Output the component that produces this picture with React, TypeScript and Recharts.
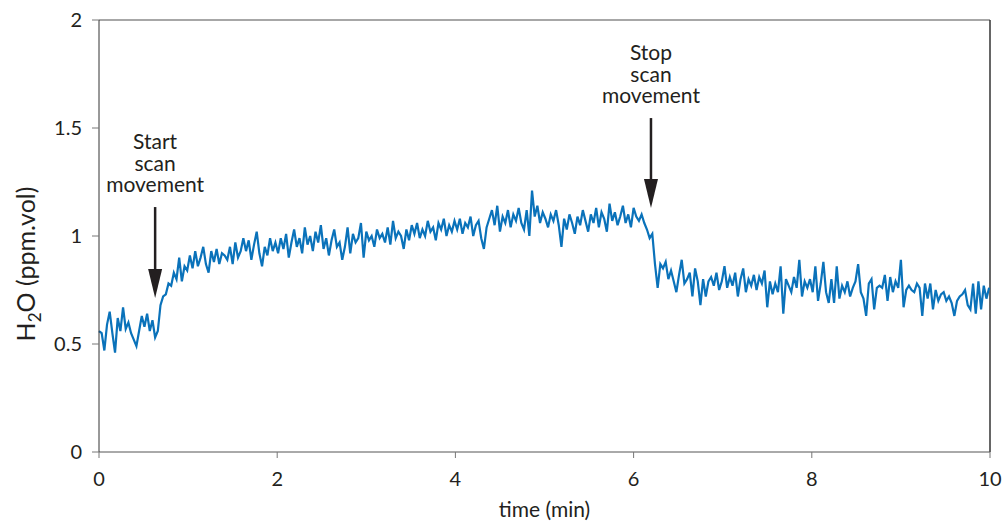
import React from 'react';
import { LineChart, Line, XAxis, YAxis, ReferenceLine } from 'recharts';

// sampling step (min)
const STEP = 0.03;

// H2O readings (ppm.vol)
const seg0Start = 0.0;
const seg0 = [0.56,0.55,0.47,0.59,0.65,0.55,0.46,0.62,0.56,0.67,0.57,0.60,0.55,0.52,0.49,0.56,0.63,0.58,0.64,0.56,0.61,0.53];
const seg1Start = 0.66;
const seg1 = [0.56,0.68,0.72,0.73,0.78,0.77,0.83,0.80,0.90,0.79,0.86,0.84];
const seg2Start = 1.02;
const seg2 = [0.91,0.85,0.93,0.86,0.90,0.95,0.87,0.83,0.93,0.88,0.94,0.87,0.92,0.91,0.89,0.95,0.87,0.97,0.90,0.93,0.99,0.93,0.98,0.89,0.96,1.02,0.92,0.86,0.95,0.91,0.99,0.93,0.97];
const seg3Start = 2.01;
const seg3 = [
  0.92,0.99,0.94,1.01,0.90,0.97,1.03,0.95,0.99,0.92,
  1.04,0.96,1.00,0.93,1.02,0.97,1.05,0.94,0.99,0.91,
  0.98,1.03,0.95,0.97,0.89,0.95,1.04,0.92,1.01,0.97,
  0.99,1.06,0.90,1.02,0.98,1.00,0.95,1.03,0.99,1.01,
  0.97,1.04,0.96,1.07,0.99,1.02,1.00,0.94,1.03,0.98,
  1.05,1.01,1.06,0.99,1.03,1.00,1.07,1.02,1.04,0.98,
  1.06,1.03,1.08,1.00,1.05,1.02,1.07,
];
const seg4Start = 4.02;
const seg4 = [
  1.03,1.08,1.01,1.06,1.04,1.09,1.00,1.05,1.07,0.99,
  0.94,1.04,1.08,1.12,1.05,1.14,1.02,1.09,1.06,1.12,
  1.04,1.10,1.07,1.13,1.06,1.03,1.12,1.00,1.21,1.09,
  1.14,1.06,1.11,1.08,1.04,1.10,1.07,1.12,1.05,0.95,
  1.08,1.03,1.10,1.06,1.01,1.09,1.05,1.12,1.07,1.02,
  1.10,1.06,1.13,1.04,1.11,1.08,1.02,1.15,1.07,1.11,
  1.05,1.09,1.14,1.06,1.10,1.04,1.13,
];
const seg5Start = 6.03;
const seg5 = [1.09,1.07,1.10,1.06,1.03,0.99,1.01,0.87,0.76,0.87,0.85,0.88];
const seg6Start = 6.39;
const seg6 = [
  0.80,0.84,0.79,0.74,0.82,0.89,0.78,0.80,0.83,0.72,
  0.85,0.79,0.68,0.80,0.72,0.79,0.81,0.77,0.83,0.75,
  0.79,0.86,0.76,0.81,0.77,0.83,0.72,0.80,0.85,0.74,
  0.80,0.77,0.82,0.75,0.81,0.78,0.84,0.67,0.79,0.73,
  0.78,0.74,0.86,0.64,0.80,0.77,0.74,0.81,0.76,0.89,
  0.72,0.79,0.76,0.80,0.74,0.86,0.70,0.78,0.88,0.74,
  0.69,0.80,0.69,0.86,0.71,0.77,0.74,0.79,0.72,0.76,
  0.79,0.87,0.74,0.71,0.63,0.78,0.80,0.66,0.76,0.77,
  0.76,0.82,0.70,0.81,0.74,0.79,0.76,0.89,0.67,0.75,
  0.77,0.75,0.74,0.78,0.76,0.63,0.78,0.71,0.78,0.66,
  0.75,0.70,0.73,0.74,0.70,0.72,0.69,0.63,0.70,0.72,
  0.73,0.75,0.68,0.66,0.78,0.64,0.79,0.66,0.77,0.71,
  0.76,
];

const xTicks = [0, 2, 4, 6, 8, 10];
const yTicks = [0, 0.5, 1, 1.5, 2];

// annotations: x (min), arrow top value, arrow tip value, text lines
const startNote = { x: 0.63, top: 1.134, tip: 0.713, lines: ['Start', 'scan', 'movement'] };
const stopNote = { x: 6.195, top: 1.546, tip: 1.13, lines: ['Stop', 'scan', 'movement'] };

const segments: [number, number[]][] = [
  [seg0Start, seg0], [seg1Start, seg1], [seg2Start, seg2], [seg3Start, seg3],
  [seg4Start, seg4], [seg5Start, seg5], [seg6Start, seg6],
];
const data = segments.flatMap(([start, vals]) =>
  vals.map((v, j) => ({ t: Math.round((start + j * STEP) * 100) / 100, h2o: v }))
);

const FONT = 'Lato, "Open Sans", sans-serif';
const TEXT = '#231f20';

const makeArrow = (lines: string[]) => (props: any) => {
  const { x1, y1, x2, y2 } = props;
  return (
    <g>
      {lines.map((l, i) => (
        <text key={i} x={x1} y={y1 - 58 + i * 21.5} textAnchor="middle" fontSize={21} fill={TEXT} fontFamily={FONT}>
          {l}
        </text>
      ))}
      <line x1={x1} y1={y1} x2={x2} y2={y2 - 26} stroke={TEXT} strokeWidth={2.5} />
      <polygon points={`${x2 - 7},${y2 - 29} ${x2 + 7},${y2 - 29} ${x2},${y2}`} fill={TEXT} />
    </g>
  );
};

const YLabel = (props: any) => {
  const vb = props.viewBox || { x: 0 };
  const cx = vb.x + 35;
  const cy = 264;
  return (
    <text
      x={cx}
      y={cy}
      transform={`rotate(-90, ${cx}, ${cy})`}
      textAnchor="middle"
      fontSize={25}
      fill={TEXT}
      fontFamily={FONT}
    >
      <tspan>H</tspan>
      <tspan fontSize={17} dy={6}>2</tspan>
      <tspan dy={-6}>O (ppm.vol)</tspan>
    </text>
  );
};

export default function App() {
  return (
    <div style={{ position: 'absolute', left: 0, top: 0, background: '#fff' }}>
      <LineChart
        width={1004}
        height={522}
        data={data}
        margin={{ top: 20, right: 14, bottom: 0, left: 0 }}
      >
        <XAxis
          dataKey="t"
          type="number"
          domain={[0, 10]}
          ticks={xTicks}
          height={70}
          tickSize={6}
          tickMargin={14}
          stroke="#555"
          tick={{ fontSize: 20, fill: TEXT, fontFamily: FONT }}
          tickLine={{ stroke: '#777' }}
          label={{ value: 'time (min)', position: 'insideBottom', offset: 5, fontSize: 21, fill: TEXT, fontFamily: FONT }}
        />
        <YAxis
          type="number"
          domain={[0, 2]}
          ticks={yTicks}
          width={99}
          tickSize={7}
          tickMargin={10}
          stroke="#333"
          tick={{ fontSize: 20, fill: TEXT, fontFamily: FONT }}
          tickLine={{ stroke: '#777' }}
          label={{ content: YLabel }}
        />
        <ReferenceLine y={2} stroke="#8a8a8a" strokeWidth={1.5} />
        <ReferenceLine x={10} stroke="#333" strokeWidth={1.5} />
        <Line
          type="linear"
          dataKey="h2o"
          stroke="#0a72ba"
          strokeWidth={2.2}
          dot={false}
          isAnimationActive={false}
        />
        <ReferenceLine
          segment={[{ x: startNote.x, y: startNote.top }, { x: startNote.x, y: startNote.tip }]}
          shape={makeArrow(startNote.lines)}
        />
        <ReferenceLine
          segment={[{ x: stopNote.x, y: stopNote.top }, { x: stopNote.x, y: stopNote.tip }]}
          shape={makeArrow(stopNote.lines)}
        />
      </LineChart>
    </div>
  );
}
